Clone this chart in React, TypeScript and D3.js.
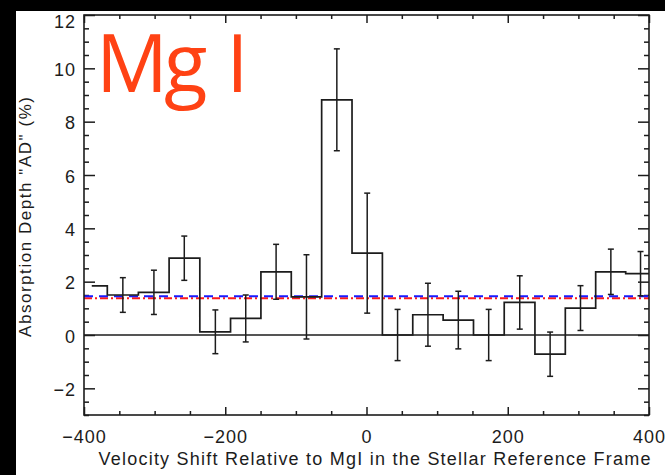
import { useEffect, useRef } from 'react';
import * as d3 from 'd3';

// bin centres (km/s) and absorption depth (%)
const velocity = [-389, -345, -301, -258, -214, -171, -128, -85, -42, 1, 44, 87, 130, 173, 217, 260, 303, 346, 388];
const depth = [1.84, 1.5, 1.6, 2.88, 0.12, 0.62, 2.37, 1.43, 8.82, 3.07, 0.0, 0.76, 0.56, 0.0, 1.22, -0.72, 1.01, 2.37, 2.3];
const depthErr = [null, 0.65, 0.83, 0.83, 0.82, 0.88, 1.03, 1.58, 1.91, 2.25, 0.96, 1.18, 1.08, 0.96, 1.0, 0.83, 0.84, 0.85, 0.83];

const blueLevel = 1.45;
const redLevel = 1.38;

const xMajor = [-400, -200, 0, 200, 400];
const yMajor = [-2, 0, 2, 4, 6, 8, 10, 12];

const App = () => {
  const svgRef = useRef<SVGSVGElement>(null);

  useEffect(() => {
    if (!svgRef.current) return;
    const W = 665;
    const H = 475;
    const margin = { top: 15, right: 16, bottom: 60, left: 84 };
    const ink = '#1c1c1c';
    const font = '"Liberation Sans", Arial, Helvetica, sans-serif';

    const svg = d3.select(svgRef.current);
    svg.selectAll('*').remove();

    // black frame of the screenshot
    svg.append('rect').attr('width', W).attr('height', H).attr('fill', '#000');
    svg.append('rect').attr('x', 16).attr('y', 11).attr('width', W - 16).attr('height', H - 11).attr('fill', '#fff');

    const x = d3.scaleLinear().domain([-400, 400]).range([margin.left, W - margin.right]);
    const y = d3.scaleLinear().domain([-3, 12]).range([H - margin.bottom, margin.top]);

    const x0 = x.range()[0], x1 = x.range()[1];
    const yTop = y.range()[1], yBot = y.range()[0];

    svg.append('clipPath').attr('id', 'plot-clip')
      .append('rect').attr('x', x0).attr('y', yTop).attr('width', x1 - x0).attr('height', yBot - yTop);

    const xMinor = d3.range(-400, 401, 50).filter(v => !xMajor.includes(v));
    const yMinor = d3.range(-3, 12.01, 0.5).filter(v => !yMajor.includes(v));

    const styleAxis = (g) => {
      g.select('.domain').remove();
      g.selectAll('line').attr('stroke', ink).attr('stroke-width', 1.5);
      g.selectAll('text').attr('fill', ink).style('font-family', font).style('font-size', '18px').style('letter-spacing', '1px');
    };

    // bottom
    svg.append('g').attr('transform', `translate(0,${yBot})`)
      .call(d3.axisBottom(x).tickValues(xMajor).tickSizeInner(-8).tickSizeOuter(0).tickPadding(15).tickFormat(d3.format('d')))
      .call(styleAxis);
    svg.append('g').attr('transform', `translate(0,${yBot})`)
      .call(d3.axisBottom(x).tickValues(xMinor).tickSizeInner(-4).tickSizeOuter(0).tickFormat(() => ''))
      .call(styleAxis);
    // top
    svg.append('g').attr('transform', `translate(0,${yTop})`)
      .call(d3.axisTop(x).tickValues(xMajor).tickSizeInner(-8).tickSizeOuter(0).tickFormat(() => ''))
      .call(styleAxis);
    svg.append('g').attr('transform', `translate(0,${yTop})`)
      .call(d3.axisTop(x).tickValues(xMinor).tickSizeInner(-4).tickSizeOuter(0).tickFormat(() => ''))
      .call(styleAxis);
    // left
    svg.append('g').attr('transform', `translate(${x0},0)`)
      .call(d3.axisLeft(y).tickValues(yMajor).tickSizeInner(-11).tickSizeOuter(0).tickPadding(8).tickFormat(d3.format('d')))
      .call(styleAxis)
      .call(g => g.selectAll('text').attr('y', d => (d === 12 ? 7 : 1.5)));
    svg.append('g').attr('transform', `translate(${x0},0)`)
      .call(d3.axisLeft(y).tickValues(yMinor).tickSizeInner(-5).tickSizeOuter(0).tickFormat(() => ''))
      .call(styleAxis);
    // right
    svg.append('g').attr('transform', `translate(${x1},0)`)
      .call(d3.axisRight(y).tickValues(yMajor).tickSizeInner(-11).tickSizeOuter(0).tickFormat(() => ''))
      .call(styleAxis);
    svg.append('g').attr('transform', `translate(${x1},0)`)
      .call(d3.axisRight(y).tickValues(yMinor).tickSizeInner(-5).tickSizeOuter(0).tickFormat(() => ''))
      .call(styleAxis);

    const plot = svg.append('g').attr('clip-path', 'url(#plot-clip)');

    // zero line
    plot.append('line')
      .attr('x1', x0).attr('x2', x1).attr('y1', y(0)).attr('y2', y(0))
      .attr('stroke', ink).attr('stroke-width', 1.5);

    // mean levels
    plot.append('line')
      .attr('x1', x0).attr('x2', x1).attr('y1', y(redLevel)).attr('y2', y(redLevel))
      .attr('stroke', '#ff1a1a').attr('stroke-width', 2).attr('stroke-dasharray', '8,3,2,3');
    plot.append('line')
      .attr('x1', x0).attr('x2', x1).attr('y1', y(blueLevel)).attr('y2', y(blueLevel))
      .attr('stroke', '#1a1aff').attr('stroke-width', 2).attr('stroke-dasharray', '9,6');

    // histogram steps: first bin starts at its centre, last runs half a bin past its centre
    const n = velocity.length;
    const steps = velocity.map((v, i) => ({ v: i === 0 ? v : (velocity[i - 1] + v) / 2, d: depth[i] }));
    steps.push({ v: velocity[n - 1] + (velocity[n - 1] - velocity[n - 2]) / 2, d: depth[n - 1] });

    const line = d3.line()
      .x(p => x(p.v))
      .y(p => y(p.d))
      .curve(d3.curveStepAfter);

    plot.append('path')
      .datum(steps)
      .attr('fill', 'none')
      .attr('stroke', ink)
      .attr('stroke-width', 1.7)
      .attr('d', line);

    // error bars
    const bars = velocity.map((v, i) => ({ v, d: depth[i], e: depthErr[i] })).filter(b => b.e != null);
    const eb = plot.selectAll('g.err').data(bars).enter().append('g').attr('class', 'err')
      .attr('stroke', ink).attr('stroke-width', 1.5);
    eb.append('line')
      .attr('x1', b => x(b.v)).attr('x2', b => x(b.v))
      .attr('y1', b => y(b.d - b.e)).attr('y2', b => y(b.d + b.e));
    eb.append('line')
      .attr('x1', b => x(b.v) - 3).attr('x2', b => x(b.v) + 3)
      .attr('y1', b => y(b.d + b.e)).attr('y2', b => y(b.d + b.e));
    eb.append('line')
      .attr('x1', b => x(b.v) - 3).attr('x2', b => x(b.v) + 3)
      .attr('y1', b => y(b.d - b.e)).attr('y2', b => y(b.d - b.e));

    // frame
    svg.append('rect')
      .attr('x', x0).attr('y', yTop).attr('width', x1 - x0).attr('height', yBot - yTop)
      .attr('fill', 'none').attr('stroke', ink).attr('stroke-width', 1.6);

    // axis titles
    svg.append('text')
      .attr('x', (x0 + x1) / 2 + 8)
      .attr('y', 465)
      .attr('text-anchor', 'middle')
      .attr('textLength', 552)
      .attr('lengthAdjust', 'spacing')
      .style('font-family', font)
      .style('font-size', '18px')
      .attr('fill', ink)
      .text('Velocity Shift Relative to MgI in the Stellar Reference Frame');

    svg.append('text')
      .attr('transform', 'translate(31,217) rotate(-90)')
      .attr('text-anchor', 'middle')
      .attr('textLength', 240)
      .attr('lengthAdjust', 'spacing')
      .style('font-family', font)
      .style('font-size', '17px')
      .attr('fill', ink)
      .text('Absorption Depth "AD" (%)');

    // species label
    svg.append('text')
      .attr('x', 96)
      .attr('y', 92)
      .style('font-family', '"Open Sans", sans-serif')
      .style('font-size', '80px')
      .style('font-weight', 500)
      .style('letter-spacing', '-4px')
      .style('word-spacing', '6px')
      .attr('fill', '#ff4214')
      .text('Mg I');
  }, []);

  return (
    <svg ref={svgRef} width={665} height={475} style={{ position: 'absolute', left: 0, top: 0, display: 'block' }}></svg>
  );
};

export default App;
